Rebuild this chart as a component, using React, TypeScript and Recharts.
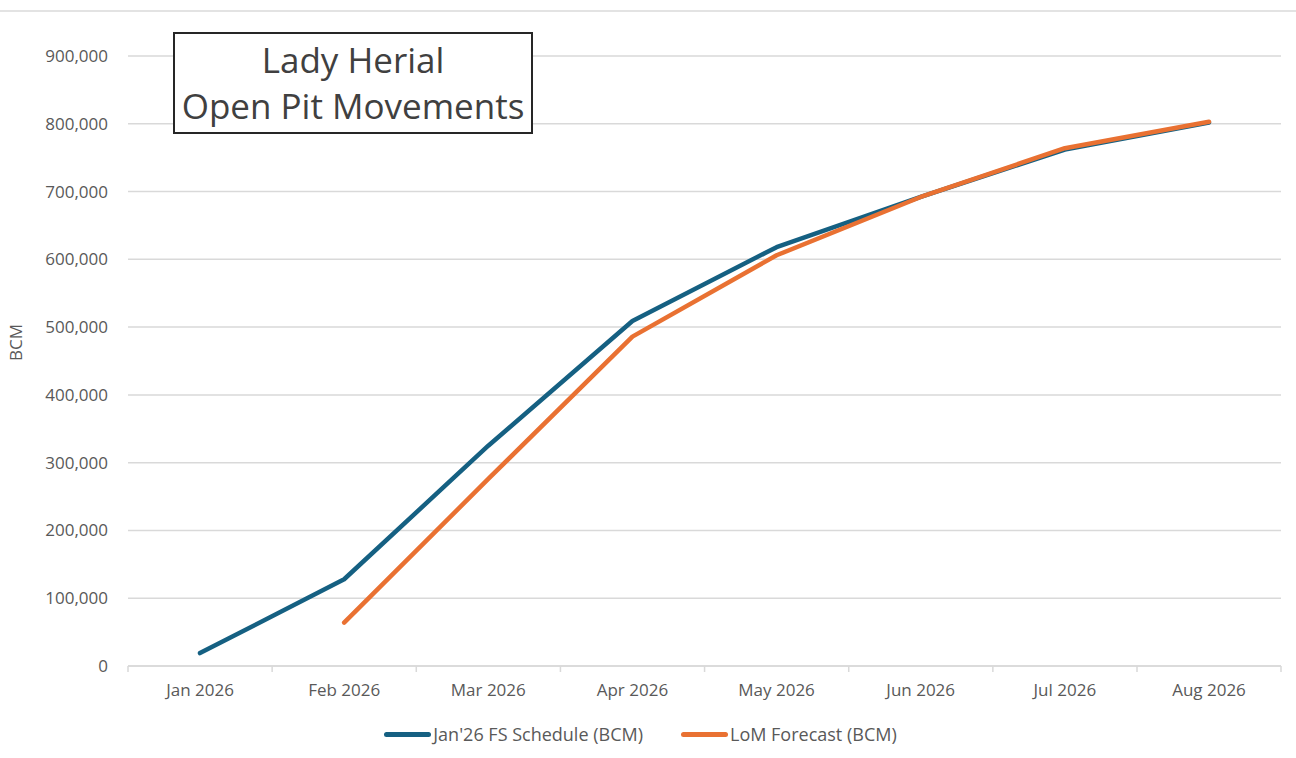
import React from 'react';
import { LineChart, Line, XAxis, YAxis, CartesianGrid, Legend } from 'recharts';

const months = ['Jan 2026', 'Feb 2026', 'Mar 2026', 'Apr 2026', 'May 2026', 'Jun 2026', 'Jul 2026', 'Aug 2026'];
const fsSchedule = [19000, 128000, 325000, 509000, 618000, 692000, 762000, 802000];
const lomForecast = [null, 64000, 276000, 486000, 606000, 692000, 764000, 803000];
const yTicks = [0, 100000, 200000, 300000, 400000, 500000, 600000, 700000, 800000, 900000];

const BLUE = '#156082';
const ORANGE = '#E97132';
const FONT = '"Open Sans", Arial, sans-serif';
const TXT = '#595959';
const AXIS = '#d9d9d9';
const HALF_BAND = 72;

const data = months.map((m, i) => ({ month: m, fs: fsSchedule[i], lom: lomForecast[i] }));

const series = [
  { key: 'fs', name: "Jan'26 FS Schedule (BCM)", color: BLUE },
  { key: 'lom', name: 'LoM Forecast (BCM)', color: ORANGE },
];

// label in the middle of the month, tick marks on the month boundaries (Excel style)
const MonthTick = (props: any) => {
  const { x, y, payload, index } = props;
  const top = y - 18; // back up to the axis line (tickSize 6 + tickMargin 12)
  return (
    <g>
      <line x1={x - HALF_BAND} x2={x - HALF_BAND} y1={top} y2={top + 6} stroke={AXIS} strokeWidth={1.5} />
      {index === months.length - 1 && (
        <line x1={x + HALF_BAND} x2={x + HALF_BAND} y1={top} y2={top + 6} stroke={AXIS} strokeWidth={1.5} />
      )}
      <text x={x} y={y} dy={12} textAnchor="middle" fill={TXT} fontSize={17} fontFamily={FONT}>
        {payload.value}
      </text>
    </g>
  );
};

const LegendContent = () => (
  <div style={{ display: 'flex', justifyContent: 'center', gap: 38, paddingTop: 12, fontFamily: FONT, fontSize: 18, color: TXT }}>
    {series.map((s) => (
      <div key={s.key} style={{ display: 'flex', alignItems: 'center' }}>
        <span style={{ display: 'inline-block', width: 47, height: 5, borderRadius: 3, background: s.color, marginRight: 2 }} />
        <span>{s.name}</span>
      </div>
    ))}
  </div>
);

const App: React.FC = () => {
  return (
    <div style={{ position: 'absolute', left: 0, top: 0, width: 1296, height: 758, background: '#fff' }}>
      <div style={{ position: 'absolute', left: 0, top: 10, width: 1296, borderTop: '2px solid #e3e3e3' }} />
      <LineChart
        width={1296}
        height={758}
        data={data}
        margin={{ top: 56, right: 15, left: 0, bottom: 8 }}
      >
        <CartesianGrid vertical={false} stroke={AXIS} strokeWidth={1.5} />
        <XAxis
          dataKey="month"
          padding={{ left: HALF_BAND, right: HALF_BAND }}
          stroke={AXIS}
          strokeWidth={1.5}
          tickLine={false}
          tickMargin={12}
          height={44}
          interval={0}
          tick={<MonthTick />}
        />
        <YAxis
          width={128}
          domain={[0, 900000]}
          ticks={yTicks}
          axisLine={false}
          tickLine={false}
          tickMargin={14}
          tickFormatter={(v: number) => v.toLocaleString('en-US')}
          tick={{ fill: TXT, fontSize: 17, fontFamily: FONT }}
          label={{ value: 'BCM', angle: -90, position: 'insideLeft', offset: 16, fill: TXT, fontSize: 17, fontFamily: FONT }}
        />
        <Legend verticalAlign="bottom" height={40} content={<LegendContent />} />
        {series.map((s) => (
          <Line
            key={s.key}
            type="linear"
            dataKey={s.key}
            name={s.name}
            stroke={s.color}
            strokeWidth={4.5}
            strokeLinecap="round"
            strokeLinejoin="round"
            dot={false}
            activeDot={false}
            connectNulls={false}
            isAnimationActive={false}
          />
        ))}
      </LineChart>
      <div
        style={{
          position: 'absolute',
          left: 173,
          top: 32,
          width: 356,
          height: 98,
          border: '2px solid #262626',
          background: '#fff',
          display: 'flex',
          flexDirection: 'column',
          alignItems: 'center',
          justifyContent: 'center',
          fontFamily: FONT,
          fontSize: 35,
          lineHeight: '46px',
          color: '#404040',
        }}
      >
        <div>Lady Herial</div>
        <div>Open Pit Movements</div>
      </div>
    </div>
  );
};

export default App;
